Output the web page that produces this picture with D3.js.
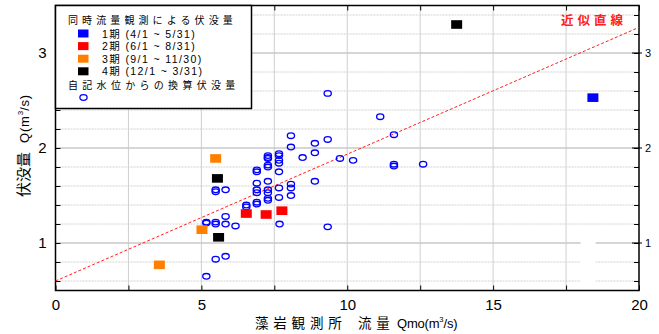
<!DOCTYPE html>
<html><head><meta charset="utf-8">
<script src="https://cdn.jsdelivr.net/npm/d3@7"></script>
<style>body{margin:0;background:#fff}</style>
</head><body><svg id="c" width="659" height="334"></svg>
<script>
// ---- data ----
const xTickLabels = [0, 5, 10, 15, 20];
const yTickLabels = [1, 2, 3];
const period1 = [[18.42, 2.53]];
const period2 = [[6.54, 1.31], [7.22, 1.30], [7.76, 1.34]];
const period3 = [[5.49, 1.89], [5.02, 1.14], [3.56, 0.77]];
const period4 = [[13.75, 3.30], [5.55, 1.68], [5.59, 1.06]];
const converted = [
  [9.33,2.575],[8.07,2.13],[9.33,2.09],[8.89,2.05],[8.07,2.01],[8.89,1.95],
  [7.28,1.92],[7.28,1.90],[7.28,1.89],[7.66,1.94],[7.66,1.92],[7.66,1.87],[7.66,1.84],
  [8.47,1.90],[9.75,1.89],[10.2,1.87],[7.28,1.82],[7.28,1.80],[6.9,1.77],[6.9,1.75],
  [7.66,1.75],[8.89,1.65],[8.07,1.62],[8.07,1.58],[8.07,1.50],[7.66,1.58],[7.66,1.48],
  [7.28,1.65],[7.28,1.56],[7.28,1.53],[7.28,1.47],[7.28,1.45],[6.9,1.63],[6.9,1.56],
  [6.9,1.53],[6.9,1.43],[6.9,1.41],[6.54,1.40],[6.54,1.38],[5.49,1.56],[5.49,1.54],
  [5.83,1.56],[5.17,1.22],[5.17,1.21],[5.49,1.22],[5.49,1.20],[5.83,1.28],[5.83,1.20],
  [6.17,1.18],[7.68,1.20],[9.33,1.17],[5.49,0.83],[5.83,0.86],[5.17,0.65],
  [11.13,2.33],[11.6,2.14],[11.6,1.83],[11.6,1.81],[12.6,1.83]
];
const fitIntercept = 0.6, fitSlope = 0.1335;
const seriesNames = ["1期 (4/1 ~ 5/31)", "2期 (6/1 ~ 8/31)", "3期 (9/1 ~ 11/30)", "4期 (12/1 ~ 3/31)"];
const seriesColors = ["#0000ff", "#ff0000", "#ff8000", "#000000"];
const seriesData = [period1, period2, period3, period4];

// ---- chart ----
const svg = d3.select("#c");
const L = 55.5, R = 639, T = 5.5, B = 290.5;
const x = d3.scaleLinear([0, 20], [L, R]);
const y = d3.scaleLinear([0.5, 3.5], [B, T]);
const jp = "'Noto Sans CJK JP', sans-serif";
const num = "'Liberation Sans', Arial, sans-serif";

// grid
const vGrid = d3.range(2.5, 20, 2.5);
const hGrid = d3.range(0.6, 3.45, 0.2).map(v => +v.toFixed(1));
svg.append("g").selectAll("line").data(vGrid).join("line")
  .attr("x1", d => x(d)).attr("x2", d => x(d)).attr("y1", T).attr("y2", B)
  .attr("stroke", "#cfcfcf").attr("stroke-width", 1);
svg.append("g").selectAll("line").data(hGrid).join("line")
  .attr("x1", L).attr("x2", R).attr("y1", d => y(d)).attr("y2", d => y(d))
  .attr("stroke", d => Number.isInteger(d) ? "#c8c8c8" : "#d0d0d0")
  .attr("stroke-width", d => Number.isInteger(d) ? 1.6 : 1)
  .attr("stroke-dasharray", d => Number.isInteger(d) ? null : "2,1");
// white patch in original
svg.append("rect").attr("x", x(18.0)).attr("y", y(1.1)).attr("width", 15).attr("height", y(0.52) - y(1.1)).attr("fill", "#fff");

// axes
const xt = d3.range(0, 20.01, 2.5);
const yt = hGrid;
svg.append("g").attr("transform", `translate(0,${B})`)
  .call(d3.axisBottom(x).tickValues(xt).tickSize(-5).tickPadding(9)
    .tickFormat(d => xTickLabels.includes(d) ? d : ""))
  .call(g => { g.select(".domain").remove(); g.selectAll("text").attr("font-family", num).attr("font-size", 15).attr("fill", "#000"); });
svg.append("g").attr("transform", `translate(0,${T})`)
  .call(d3.axisTop(x).tickValues(xt).tickSize(-5).tickFormat(""))
  .call(g => g.select(".domain").remove());
svg.append("g").attr("transform", `translate(${L},0)`)
  .call(d3.axisLeft(y).tickValues(yt).tickSize(-5).tickPadding(9)
    .tickFormat(d => yTickLabels.includes(d) ? d : ""))
  .call(g => { g.select(".domain").remove(); g.selectAll("text").attr("font-family", num).attr("font-size", 15).attr("fill", "#000"); });
svg.append("g").attr("transform", `translate(${R},0)`)
  .call(d3.axisRight(y).tickValues(yt).tickSize(-5).tickPadding(6)
    .tickFormat(d => yTickLabels.includes(d) ? d : ""))
  .call(g => { g.select(".domain").remove(); g.selectAll("text").attr("font-family", num).attr("font-size", 11).attr("fill", "#000"); });
svg.append("g").selectAll("line").data(yTickLabels).join("line")
  .attr("x1", R - 7).attr("x2", R + 3).attr("y1", d => y(d)).attr("y2", d => y(d))
  .attr("stroke", "#000").attr("stroke-width", 1);
svg.selectAll(".tick line").attr("stroke", "#000");

svg.append("rect").attr("x", L).attr("y", T).attr("width", R - L).attr("height", B - T)
  .attr("fill", "none").attr("stroke", "#000").attr("stroke-width", 1.5);

// fit line
svg.append("line")
  .attr("x1", x(0)).attr("y1", y(fitIntercept))
  .attr("x2", x(20)).attr("y2", y(fitIntercept + fitSlope * 20))
  .attr("stroke", "#ff2020").attr("stroke-width", 1).attr("stroke-dasharray", "3,2");

// circles
svg.append("g").selectAll("ellipse").data(converted).join("ellipse")
  .attr("cx", d => x(d[0])).attr("cy", d => y(d[1])).attr("rx", 3.6).attr("ry", 2.8)
  .attr("fill", "none").attr("stroke", "#0000ff").attr("stroke-width", 1.35);

// squares
seriesData.forEach((data, i) => {
  svg.append("g").selectAll("rect").data(data).join("rect")
    .attr("x", d => x(d[0]) - 5.5).attr("y", d => y(d[1]) - 4.3)
    .attr("width", 11).attr("height", 8.6).attr("fill", seriesColors[i]);
});

// legend
const lg = svg.append("g");
lg.append("rect").attr("x", L).attr("y", T).attr("width", 196).attr("height", 103)
  .attr("fill", "#fff").attr("stroke", "#000").attr("stroke-width", 1.5);
lg.append("text").attr("x", 68).attr("y", 23.5).attr("font-family", jp).attr("font-size", 10)
  .attr("letter-spacing", 4.1).text("同時流量観測による伏没量");
seriesNames.forEach((s, i) => {
  const yy = 33.5 + i * 12.6;
  lg.append("rect").attr("x", 78).attr("y", yy - 4).attr("width", 10.5).attr("height", 8).attr("fill", seriesColors[i]);
  lg.append("text").attr("x", 102).attr("y", yy + 4).attr("font-family", "'Liberation Sans', 'Noto Sans CJK JP', sans-serif")
    .attr("font-size", 10.5).attr("letter-spacing", 1.4).text(s);
});
lg.append("text").attr("x", 68).attr("y", 89).attr("font-family", jp).attr("font-size", 10)
  .attr("letter-spacing", 4.3).text("自記水位からの換算伏没量");
lg.append("ellipse").attr("cx", 83.5).attr("cy", 97.5).attr("rx", 3.6).attr("ry", 2.8)
  .attr("fill", "none").attr("stroke", "#0000ff").attr("stroke-width", 1.3);

// fit label
svg.append("text").attr("x", 561).attr("y", 25).attr("font-family", jp).attr("font-size", 12.5)
  .attr("font-weight", "bold").attr("letter-spacing", 4).attr("fill", "#ff2020").text("近似直線");

// axis titles
const xtitle = svg.append("text").attr("y", 328).attr("font-family", jp).attr("font-size", 13.5);
xtitle.append("tspan").attr("x", 255).attr("letter-spacing", 4.8).text("藻岩観測所");
xtitle.append("tspan").attr("x", 358).attr("letter-spacing", 4.8).text("流量");
xtitle.append("tspan").attr("x", 397).attr("font-family", num).attr("font-size", 13).attr("letter-spacing", -0.2).text("Qmo(m");
xtitle.append("tspan").attr("font-family", num).attr("font-size", 7.5).attr("dy", -6).text("3");
xtitle.append("tspan").attr("font-family", num).attr("font-size", 13).attr("letter-spacing", -0.2).attr("dy", 6).text("/s)");

const ytitle = svg.append("text").attr("transform", "translate(29,197) rotate(-90)")
  .attr("font-family", jp).attr("font-size", 15);
ytitle.append("tspan").text("伏没量");
ytitle.append("tspan").attr("font-family", num).attr("font-size", 13).attr("dx", 9).attr("letter-spacing", 0.8).text("Q(m");
ytitle.append("tspan").attr("font-family", num).attr("font-size", 8).attr("dy", -6).text("3");
ytitle.append("tspan").attr("font-family", num).attr("font-size", 13).attr("dy", 6).attr("letter-spacing", 0.8).text("/s)");
</script></body></html>
